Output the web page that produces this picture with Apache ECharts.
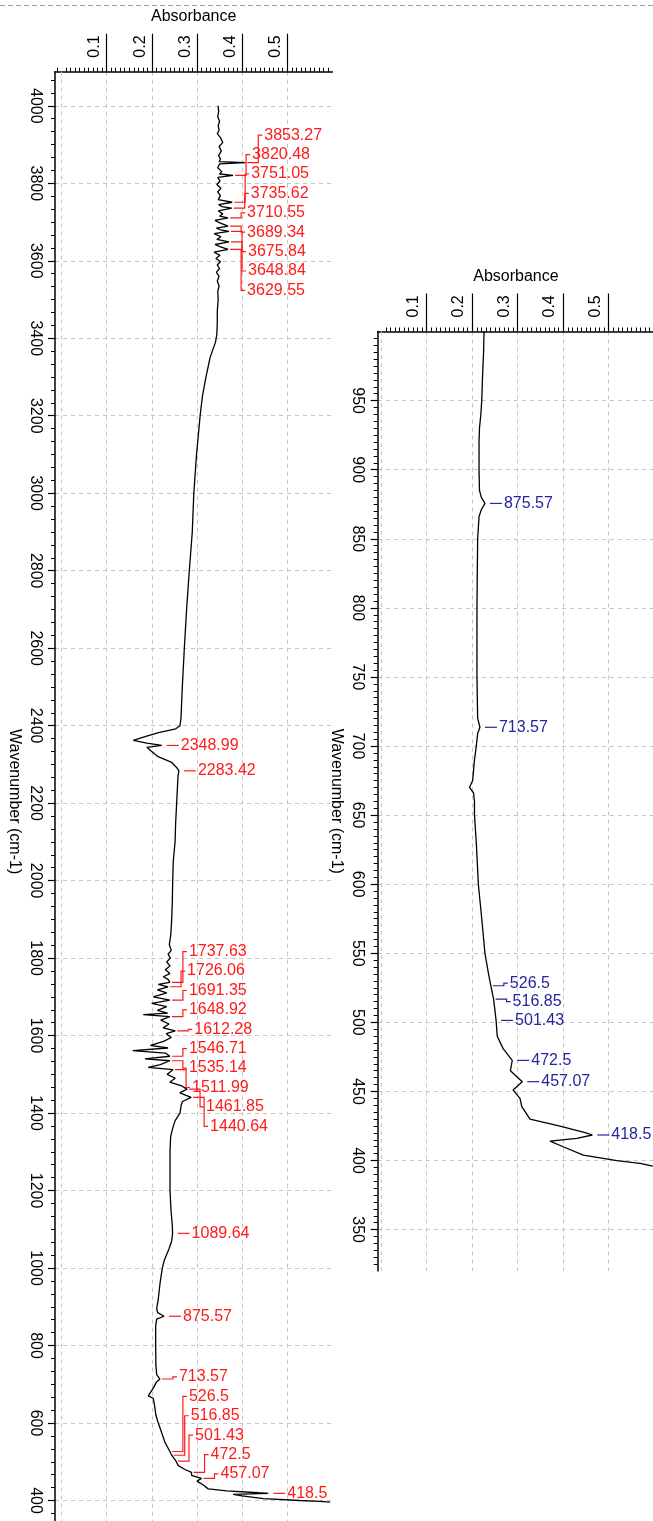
<!DOCTYPE html>
<html><head><meta charset="utf-8">
<script src="https://cdn.jsdelivr.net/npm/echarts@6/dist/echarts.min.js"></script>
<style>html,body{margin:0;padding:0;background:#fff}#c{width:653px;height:1521px}</style>
</head><body><div id="c"></div>
<script>
// ---------- data ----------
const leftWn = [4000,3985,3972,3960,3948,3937,3928,3918,3905,3895,3883,3872,3862,3856,3853.27,3850,3840,3830,3824,3820.48,3815,3806,3797,3787,3778,3768,3758,3751.05,3745,3740,3735.62,3729,3721,3715,3710.55,3704,3697,3689.34,3684,3680,3675.84,3670,3662,3655,3648.84,3642,3636,3629.55,3622,3614,3606,3598,3589,3580,3570,3560,3548,3535,3520,3500,3470,3440,3410,3390,3370,3350,3300,3250,3200,3100,3000,2900,2800,2700,2600,2500,2420,2400,2392,2382,2372,2362,2355,2348.99,2344,2336,2320,2305,2290,2283.42,2270,2200,2150,2100,2050,2000,1950,1900,1860,1835,1820,1810,1800,1790,1780,1770,1760,1752,1745,1737.63,1732,1726.06,1718,1710,1700,1691.35,1683,1675,1665,1658,1654,1648.92,1640,1630,1620,1612.28,1605,1595,1585,1575,1568,1561,1555,1546.71,1540,1535.14,1525,1518,1511.99,1500,1490,1480,1470,1461.85,1452,1440.64,1430,1420,1400,1380,1360,1340,1300,1250,1200,1150,1110,1089.64,1070,1050,1020,1000,960,920,895,885,875.57,868,850,800,750,725,713.57,705,690,670,664,650,620,600,575,550,526.5,516.85,501.43,490,480,472.5,465,457.07,450,440,430,425,420,418.5,416,412,405,400,398,396];
const leftAbs = [0.347,0.348,0.346,0.350,0.347,0.349,0.345,0.352,0.357,0.349,0.354,0.348,0.352,0.349,0.407,0.350,0.346,0.355,0.350,0.380,0.346,0.351,0.344,0.353,0.346,0.352,0.347,0.378,0.348,0.355,0.377,0.347,0.357,0.350,0.369,0.340,0.352,0.369,0.343,0.352,0.371,0.338,0.353,0.344,0.371,0.340,0.352,0.369,0.338,0.351,0.342,0.352,0.345,0.350,0.343,0.349,0.345,0.349,0.346,0.347,0.345,0.345,0.344,0.341,0.335,0.329,0.320,0.312,0.307,0.299,0.293,0.2896,0.283,0.277,0.272,0.2675,0.2646,0.2624,0.253,0.215,0.185,0.159,0.189,0.222,0.189,0.197,0.214,0.244,0.2564,0.260,0.258,0.255,0.2528,0.2515,0.2475,0.2462,0.2455,0.244,0.242,0.2387,0.243,0.236,0.241,0.233,0.2405,0.230,0.240,0.2254,0.236,0.240,0.2143,0.236,0.2124,0.233,0.2032,0.240,0.1997,0.233,0.2124,0.235,0.181,0.240,0.2198,0.238,0.225,0.252,0.232,0.243,0.226,0.197,0.236,0.1576,0.230,0.240,0.1848,0.240,0.219,0.192,0.247,0.234,0.252,0.240,0.266,0.278,0.262,0.287,0.268,0.265,0.2624,0.2513,0.246,0.2417,0.2403,0.2403,0.2403,0.2424,0.2454,0.246,0.244,0.2381,0.2276,0.2232,0.2181,0.2143,0.2107,0.213,0.227,0.2107,0.2085,0.2085,0.209,0.2107,0.218,0.210,0.2032,0.1921,0.203,0.2054,0.209,0.2143,0.2218,0.2291,0.240,0.244,0.2535,0.2587,0.2734,0.288,0.288,0.310,0.300,0.314,0.325,0.366,0.436,0.458,0.380,0.400,0.447,0.528,0.572,0.595];

const rightWn = [1000,985,970,960,950,940,930,920,900,885,880,875.57,871,866,850,820,800,750,720,713.57,709,700,690,675,670,666,660,650,630,600,575,550,535,526.5,516.85,501.43,490,481,472.5,465,457.07,451,445,439,430,425,420,418.5,416,414,410,404,400,398,396];
const rightAbs = [0.226,0.225,0.223,0.222,0.221,0.219,0.216,0.215,0.215,0.216,0.220,0.228,0.220,0.215,0.212,0.211,0.2105,0.2105,0.212,0.217,0.212,0.209,0.205,0.201,0.194,0.203,0.205,0.205,0.209,0.2135,0.221,0.228,0.236,0.241,0.247,0.2525,0.255,0.268,0.288,0.284,0.310,0.290,0.305,0.309,0.327,0.393,0.45,0.464,0.43,0.371,0.400,0.444,0.518,0.569,0.597];

const leftPeakWn = [3853.27,3820.48,3751.05,3735.62,3710.55,3689.34,3675.84,3648.84,3629.55,2348.99,2283.42,1737.63,1726.06,1691.35,1648.92,1612.28,1546.71,1535.14,1511.99,1461.85,1440.64,1089.64,875.57,713.57,526.5,516.85,501.43,472.5,457.07,418.5];
const leftPeakAbs = [0.407,0.380,0.378,0.377,0.369,0.369,0.371,0.371,0.369,0.222,0.260,0.240,0.236,0.240,0.240,0.252,0.240,0.240,0.247,0.278,0.287,0.246,0.227,0.218,0.240,0.244,0.2535,0.288,0.310,0.458];

const rightPeakWn = [875.57,713.57,526.5,516.85,501.43,472.5,457.07,418.5];
const rightPeakAbs = [0.228,0.217,0.241,0.247,0.2525,0.288,0.310,0.464];

const absTicks = [0.1,0.2,0.3,0.4,0.5];
const leftWnTicks = [400,600,800,1000,1200,1400,1600,1800,2000,2200,2400,2600,2800,3000,3200,3400,3600,3800,4000];
const rightWnTicks = [350,400,450,500,550,600,650,700,750,800,850,900,950];

// ---------- chart ----------
const FONT = '"Liberation Sans", Arial, sans-serif';
const GRID_COLOR = '#c4c4c4';
const chart = echarts.init(document.getElementById('c'), null, {renderer:'canvas'});

function layoutLabels(ys, S, bottom) {
  const order = ys.map((y,i)=>i).sort((a,b)=>ys[a]-ys[b]);
  let clusters = order.map(i=>({items:[i], top:ys[i]}));
  let changed = true, guard = 0;
  while (changed && guard++ < 500) {
    changed = false;
    for (const c of clusters) {
      const n = c.items.length;
      const mean = c.items.reduce((s,i)=>s+ys[i],0)/n;
      c.top = mean - (n-1)*S/2;
      if (c.top + (n-1)*S > bottom) c.top = bottom - (n-1)*S;
    }
    for (let k=1;k<clusters.length;k++){
      const a = clusters[k-1], b = clusters[k];
      if (a.top + a.items.length*S > b.top + 0.01) {
        a.items = a.items.concat(b.items);
        clusters.splice(k,1);
        changed = true; break;
      }
    }
  }
  const out = [];
  clusters.forEach(c=>c.items.forEach((i,k)=>{ out[i] = c.top + k*S; }));
  return out;
}

function makeRender(peakWn, peakAbs, S, color) {
  return function(params, api) {
    const i = params.dataIndex;
    const pts = peakWn.map((w,k)=>api.coord([peakAbs[k], w]));
    const ys = pts.map(p=>p[1]);
    const bottom = Math.max.apply(null, ys);
    const ty = layoutLabels(ys, S, bottom)[i];
    const cx = pts[i][0], py = pts[i][1];
    let points;
    if (Math.abs(ty-py) < 1.5) points = [[cx+5,py],[cx+17,py]];
    else points = [[cx+2,py],[cx+13,py],[cx+13,ty],[cx+17,ty]];
    return {type:'group', children:[
      {type:'polyline', shape:{points:points}, style:{stroke:color, lineWidth:1.2, fill:null}},
      {type:'text', x:cx+19, y:ty, style:{text:String(peakWn[i]), fill:color, fontSize:16, fontFamily:FONT, align:'left', verticalAlign:'middle'}}
    ]};
  };
}

function xAxisCfg(gi, min, max, spacerLH) {
  return {
    gridIndex:gi, type:'value', position:'top', min:min, max:max,
    minInterval:0.1, maxInterval:0.1,
    name:'Absorbance', nameLocation:'middle', nameGap:47,
    nameTextStyle:{fontSize:16, color:'#000', fontFamily:FONT},
    axisLine:{show:true, onZero:false, lineStyle:{color:'#000', width:1.5}},
    axisTick:{show:true, length:38, customValues:absTicks, lineStyle:{color:'#000', width:1.2}},
    minorTick:{show:true, splitNumber:10, length:4, lineStyle:{color:'#000', width:1}},
    axisLabel:{show:true, customValues:absTicks, rotate:-90, margin:14, interval:0,
      showMinLabel:true, showMaxLabel:true, hideOverlap:false,
      formatter:(v)=>'{v|' + String(v) + '}\n{s| }',
      rich:{
        v:{fontSize:16, lineHeight:16, color:'#000', fontFamily:FONT},
        s:{fontSize:4, lineHeight:spacerLH}
      }},
    splitLine:{show:true, lineStyle:{color:GRID_COLOR, type:[4,4], width:1}},
    minorSplitLine:{show:false}
  };
}
function yAxisCfg(gi, min, max, step, ticks, minorSplit) {
  return {
    gridIndex:gi, type:'value', min:min, max:max, minInterval:step, maxInterval:step,
    name:'Wavenumber (cm-1)', nameLocation:'middle', nameRotate:-90, nameGap:33,
    nameTextStyle:{fontSize:16, color:'#000', fontFamily:FONT},
    axisLine:{show:true, onZero:false, lineStyle:{color:'#000', width:1.5}},
    axisTick:{show:true, length:7, customValues:ticks, lineStyle:{color:'#000', width:1.2}},
    minorTick:{show:true, splitNumber:minorSplit, length:4, lineStyle:{color:'#000', width:1}},
    axisLabel:{show:true, customValues:ticks, rotate:-90, margin:12, fontSize:16, color:'#000', fontFamily:FONT,
      showMinLabel:true, showMaxLabel:true, formatter:(v)=>String(v)},
    splitLine:{show:true, lineStyle:{color:GRID_COLOR, type:[4,4], width:1}},
    minorSplitLine:{show:false}
  };
}
const zeroLine = {silent:true, symbol:['none','none'], label:{show:false},
  lineStyle:{color:GRID_COLOR, type:[4,4], width:1}, data:[{xAxis:0}]};

const option = {
  animation:false,
  backgroundColor:'#fff',
  grid:[
    {left:55, top:71.7, width:277.4, height:1459.8, outerBoundsMode:'none', containLabel:false},
    {left:377.7, top:331.5, width:276.5, height:939.6, outerBoundsMode:'none', containLabel:false}
  ],
  xAxis:[ xAxisCfg(0, -0.0145, 0.6, 23.4), xAxisCfg(1, -0.0077, 0.6, 26.8) ],
  yAxis:[ yAxisCfg(0, 320, 4088, 200, leftWnTicks, 6), yAxisCfg(1, 320, 1000, 50, rightWnTicks, 10) ],
  graphic:[{type:'line', shape:{x1:0,y1:5.5,x2:653,y2:5.5}, style:{stroke:'#9a9a9a', lineWidth:1, lineDash:[5,3]}}],
  series:[
    {type:'line', xAxisIndex:0, yAxisIndex:0, showSymbol:false, symbol:'none', clip:false,
     lineStyle:{color:'#000', width:1.3}, data:leftWn.map((w,i)=>[leftAbs[i], w]), markLine:zeroLine, z:3},
    {type:'line', xAxisIndex:1, yAxisIndex:1, showSymbol:false, symbol:'none', clip:false,
     lineStyle:{color:'#000', width:1.3}, data:rightWn.map((w,i)=>[rightAbs[i], w]), markLine:zeroLine, z:3},
    {type:'custom', xAxisIndex:0, yAxisIndex:0, clip:false, silent:true,
     renderItem:makeRender(leftPeakWn, leftPeakAbs, 19.4, '#ff1a1a'),
     data:leftPeakWn.map((w,i)=>[leftPeakAbs[i], w])},
    {type:'custom', xAxisIndex:1, yAxisIndex:1, clip:false, silent:true,
     renderItem:makeRender(rightPeakWn, rightPeakAbs, 18.5, '#26269c'),
     data:rightPeakWn.map((w,i)=>[rightPeakAbs[i], w])}
  ]
};
chart.setOption(option);
</script>
</body></html>
